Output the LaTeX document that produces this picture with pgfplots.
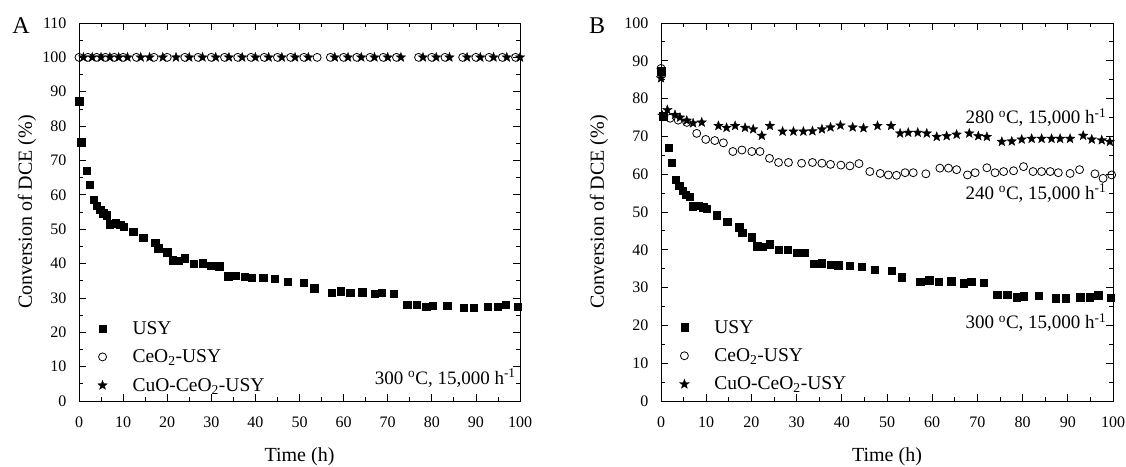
\documentclass[border=0pt]{standalone}
\usepackage{fontspec}
\setmainfont{Liberation Serif}
\usepackage{pgfplots}
\usepackage{pgfplotstable}
\pgfplotsset{compat=1.18}
\pgfdeclareplotmark{fstar}{%
  \pgfpathmoveto{\pgfpointpolar{90}{\pgfplotmarksize}}%
  \pgfpathlineto{\pgfpointpolar{126}{0.42\pgfplotmarksize}}%
  \pgfpathlineto{\pgfpointpolar{162}{\pgfplotmarksize}}%
  \pgfpathlineto{\pgfpointpolar{198}{0.42\pgfplotmarksize}}%
  \pgfpathlineto{\pgfpointpolar{234}{\pgfplotmarksize}}%
  \pgfpathlineto{\pgfpointpolar{270}{0.42\pgfplotmarksize}}%
  \pgfpathlineto{\pgfpointpolar{306}{\pgfplotmarksize}}%
  \pgfpathlineto{\pgfpointpolar{342}{0.42\pgfplotmarksize}}%
  \pgfpathlineto{\pgfpointpolar{18}{\pgfplotmarksize}}%
  \pgfpathlineto{\pgfpointpolar{54}{0.42\pgfplotmarksize}}%
  \pgfpathclose\pgfusepathqfillstroke}

\pgfplotstableread{
t y
0 87.3
0.5 75.3
1.7 67.0
2.4 63.0
3.3 58.6
4.0 56.9
4.8 55.7
5.5 54.6
6.3 54.1
7.0 51.5
8.3 51.7
9.3 51.3
10.1 50.8
12.3 49.2
14.6 47.5
17.3 46.0
18.0 44.5
20.0 43.3
21.3 41.0
22.5 40.8
24.0 41.5
26.0 40.0
28.0 40.1
30.0 39.3
31.8 39.2
33.8 36.3
35.5 36.5
37.6 36.1
39.2 35.9
41.8 35.8
44.4 35.6
47.3 34.8
51.0 34.4
53.3 32.8
57.3 31.6
59.3 32.0
61.5 31.5
64.2 31.7
67.0 31.2
68.6 31.5
71.4 31.3
74.4 28.1
76.6 28.1
78.7 27.5
80.2 27.7
83.5 27.8
87.3 27.2
89.5 27.2
92.7 27.5
94.9 27.5
96.7 28.0
99.5 27.4
}\usy

\pgfplotstableread{
t y
0 100
2 100
4 100
6 100
8 100
10 100
13 100
17 100
20 100
24 100
27 100
30 100
33 100
36 100
39 100
42 100
45 100
48 100
51 100
54 100
57 100
60 100
63 100
66 100
69 100
72 100
77 100
80 100
83 100
87 100
90 100
93 100
96 100
99 100
}\ceoA

\pgfplotstableread{
t y
1 100
3 100
5 100
7 100
9 100
11 100
14 100
16 100
19 100
22 100
25 100
28 100
31 100
34 100
37 100
40 100
43 100
46 100
49 100
52 100
58 100
61 100
64 100
67 100
70 100
73 100
78 100
81 100
84 100
88 100
91 100
94 100
97 100
100 100
}\cuoA

\pgfplotstableread{
t y
0 88.0
0.6 75.2
2.0 74.8
3.8 74.3
5.7 73.7
7.9 70.8
9.9 69.2
11.9 68.9
13.8 68.3
15.9 66.0
17.9 66.4
20.1 66.0
21.9 66.0
24.0 64.2
26.0 63.1
28.2 63.1
31.1 62.9
33.5 63.1
35.6 62.9
37.5 62.6
39.8 62.4
41.8 62.2
43.8 62.8
46.2 60.7
48.5 60.2
50.3 59.8
52.1 59.7
54.0 60.4
55.8 60.4
58.6 60.1
61.7 61.6
63.6 61.6
65.4 61.2
67.8 59.8
69.5 60.4
72.1 61.7
73.9 60.4
75.8 60.7
78.0 60.9
80.2 62.0
82.3 60.7
84.2 60.7
86.1 60.7
87.9 60.4
90.5 60.2
92.6 61.2
96.0 60.1
97.8 58.9
99.7 59.8
}\ceoB

\pgfplotstableread{
t y
0 85.4
0.3 75.5
1.4 77.0
3.1 75.7
4.2 75.0
5.7 74.2
7.1 73.5
9.0 73.7
12.7 72.8
14.5 72.3
16.4 72.8
18.6 72.3
20.4 71.9
22.3 70.2
24.1 72.8
26.9 71.3
29.3 71.3
31.5 71.3
33.5 71.4
35.6 71.9
37.5 72.4
39.7 72.9
42.4 72.4
44.8 72.2
47.9 72.8
50.9 72.8
52.9 70.8
54.7 71.0
56.8 71.0
58.8 70.8
61.0 69.9
63.2 70.1
65.4 70.5
68.2 70.8
70.2 70.1
72.1 69.9
75.4 68.6
77.6 68.7
79.8 69.2
82.0 69.4
84.2 69.4
86.4 69.4
88.3 69.4
90.5 69.4
93.4 70.2
95.3 69.2
97.5 69.0
99.3 68.6
}\cuoB

\tikzset{ann/.style={font=\fontsize{19}{23}\selectfont, anchor=east}}
\pgfplotsset{
  myaxis/.style={
    scale only axis, height=378pt, xmin=0, xmax=100, xtick distance=10, ymin=0,
    ytick distance=10,
    minor x tick num=1, minor y tick num=1,
    tick align=inside, major tick length=7pt, minor tick length=4pt,
    every tick/.style={black, line width=0.8pt},
    axis line style={line width=0.9pt},
    ticklabel style={font=\fontsize{16}{19}\selectfont},
    /pgf/number format/assume math mode=true,
    xlabel={Time (h)}, ylabel={Conversion of DCE (\%)},
    label style={font=\fontsize{20}{24}\selectfont},
    xlabel style={at={(axis description cs:0.5,-0.148)}, anchor=center},
    xticklabel style={yshift=-12pt},
    yticklabel style={xshift=-9pt},
    legend style={draw=none, fill=none, font=\fontsize{19.5}{23}\selectfont, anchor=north west, row sep=10pt},
    legend cell align=left,
    legend image code/.code={\path[draw=none,fill=none] (0pt,0pt) -- (36pt,0pt); \path[only marks] plot coordinates {(8pt,0pt)};},
    clip=false,
  },
  usy/.style={only marks, mark=square*, mark size=3.7pt, black},
  ceo/.style={only marks, mark=o, mark size=4pt, black, mark options={line width=0.8pt}},
  cuo/.style={only marks, mark=fstar, mark size=5pt, black, mark options={line width=0.3pt}},
}

\begin{document}
\begin{tikzpicture}[x=1pt,y=1pt]
\useasboundingbox (0pt,0pt) rectangle (1126pt,466pt);
\begin{axis}[myaxis, at={(79pt,65pt)}, anchor=south west, width=441pt, ymax=110,
  ylabel style={at={(axis description cs:-0.118,0.5)}, anchor=center},
  legend style={at={(axis description cs:0.028,0.222)}}]
\addplot[usy] table[x=t,y=y] {\usy};
\addlegendentry{USY}
\addplot[ceo] table[x=t,y=y] {\ceoA};
\addlegendentry{CeO\textsubscript{2}-USY}
\addplot[cuo] table[x=t,y=y] {\cuoA};
\addlegendentry{CuO-CeO\textsubscript{2}-USY}
\node[ann] at (axis cs:99.8,6.7) {300 \textsuperscript{o}C, 15,000 h\textsuperscript{-1}};
\end{axis}
\begin{axis}[myaxis, at={(661pt,65pt)}, anchor=south west, width=452pt, ymax=100,
  ylabel style={at={(axis description cs:-0.137,0.5)}, anchor=center},
  legend style={at={(axis description cs:0.027,0.225)}}]
\addplot[usy] table[x=t,y=y] {\usy};
\addlegendentry{USY}
\addplot[ceo] table[x=t,y=y] {\ceoB};
\addlegendentry{CeO\textsubscript{2}-USY}
\addplot[cuo] table[x=t,y=y] {\cuoB};
\addlegendentry{CuO-CeO\textsubscript{2}-USY}
\node[ann] at (axis cs:99.3,74.9) {280 \textsuperscript{o}C, 15,000 h\textsuperscript{-1}};
\node[ann] at (axis cs:99.3,55.0) {240 \textsuperscript{o}C, 15,000 h\textsuperscript{-1}};
\node[ann] at (axis cs:99.3,20.8) {300 \textsuperscript{o}C, 15,000 h\textsuperscript{-1}};
\end{axis}
\node[font=\fontsize{24}{28}\selectfont] at (21pt,440pt) {A};
\node[font=\fontsize{24}{28}\selectfont] at (597pt,440pt) {B};
\end{tikzpicture}
\end{document}
